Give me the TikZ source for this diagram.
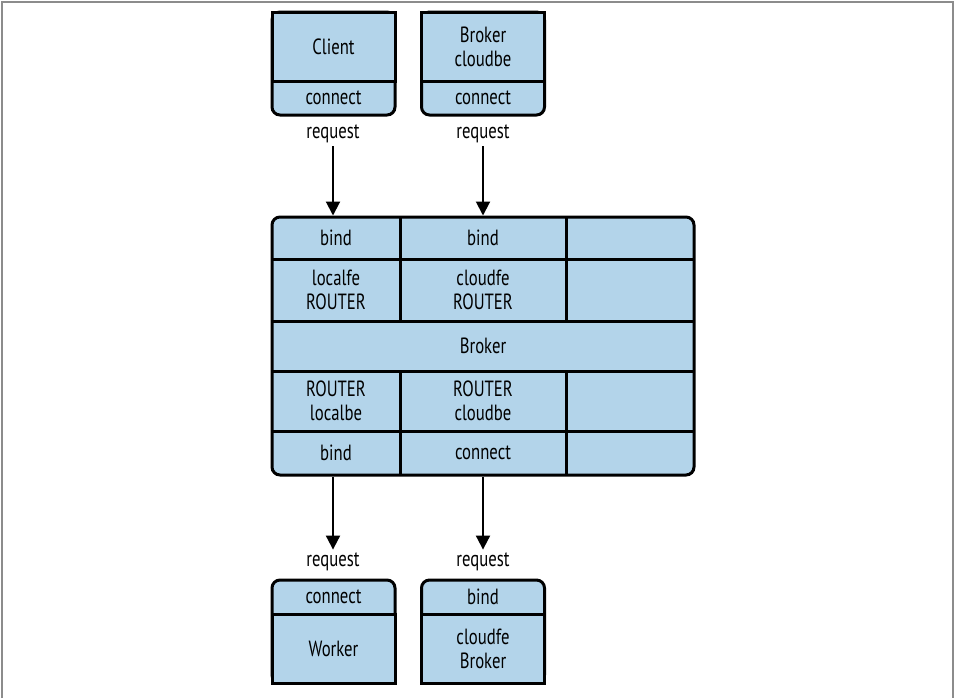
\documentclass[tikz,border=0pt]{standalone}
\usepackage{fontspec}
\setmainfont{PT Sans}[FakeStretch=0.76]
\usetikzlibrary{arrows.meta}
\definecolor{sockblue}{RGB}{179,212,234}
\definecolor{framegray}{RGB}{140,140,140}
\tikzset{
  txt/.style={font=\fontsize{11}{12}\selectfont, align=center, inner sep=1.5pt},
  box/.style={draw, fill=sockblue, line width=1.5pt, rounded corners=4pt, inner sep=0pt},
  part/.style={box, sharp corners, txt, minimum width=61.5pt, minimum height=34.5pt},
  divider/.style={line width=1.5pt},
  req/.style={line width=1pt, -{Triangle[width=7pt,length=7pt]}}
}
\begin{document}
\begin{tikzpicture}[x=0.5pt, y=-0.5pt]
  \useasboundingbox (0,0) rectangle (956,698);
  % frame, open at the bottom
  \draw[framegray, line width=0.7pt] (2,698) -- (2,2) -- (953,2) -- (953,698);

  % client and peer broker
  \node[box, minimum width=61.5pt, minimum height=51.5pt] (clientbox) at (333.5,63.5) {};
  \node[part, anchor=north] (client) at (clientbox.north) {Client};
  \node[txt] (clientcon) at (333.5,98) {connect};
  \node[box, minimum width=61.5pt, minimum height=51.5pt] (peerbox) at (483,63.5) {};
  \node[part, anchor=north] (peer) at (peerbox.north) {Broker\\cloudbe};
  \node[txt] (peercon) at (483,98) {connect};

  % the broker itself
  \node[box, txt, minimum width=211pt, minimum height=129pt] (broker) at (483,346) {Broker};
  \draw[divider] (272,259) -- (694,259);
  \draw[divider] (272,321) -- (694,321);
  \draw[divider] (272,371) -- (694,371);
  \draw[divider] (272,431) -- (694,431);
  \draw[divider] (400,217) -- (400,321);
  \draw[divider] (566,217) -- (566,321);
  \draw[divider] (400,371) -- (400,475);
  \draw[divider] (566,371) -- (566,475);
  \node[txt] (localbind) at (336,238) {bind};
  \node[txt] (cloudbind) at (483,238) {bind};
  \node[txt] (localfe) at (336,290) {localfe\\ROUTER};
  \node[txt] (cloudfe) at (483,290) {cloudfe\\ROUTER};
  \node[txt] (localbe) at (336,401) {ROUTER\\localbe};
  \node[txt] (cloudbe) at (483,401) {ROUTER\\cloudbe};
  \node[txt] (bebind) at (336,453) {bind};
  \node[txt] (becon) at (483,453) {connect};

  % worker and peer frontend
  \node[box, minimum width=61.5pt, minimum height=51.5pt] (workerbox) at (333.5,631.5) {};
  \node[part, anchor=south] (worker) at (workerbox.south) {Worker};
  \node[txt] (workercon) at (333.5,597) {connect};
  \node[box, minimum width=61.5pt, minimum height=51.5pt] (peerfebox) at (483,631.5) {};
  \node[part, anchor=south] (peerfe) at (peerfebox.south) {cloudfe\\Broker};
  \node[txt] (peerfebind) at (483,597) {bind};

  % requests
  \node[txt] (reqA) at (333,134) {request};
  \node[txt] (reqB) at (483,134) {request};
  \node[txt] (reqC) at (333,562) {request};
  \node[txt] (reqD) at (483,562) {request};
  \draw[req] (reqA) -- (reqA |- broker.north);
  \draw[req] (reqB) -- (reqB |- broker.north);
  \draw[req] (broker.south -| reqC) -- (reqC);
  \draw[req] (broker.south -| reqD) -- (reqD);
\end{tikzpicture}
\end{document}
